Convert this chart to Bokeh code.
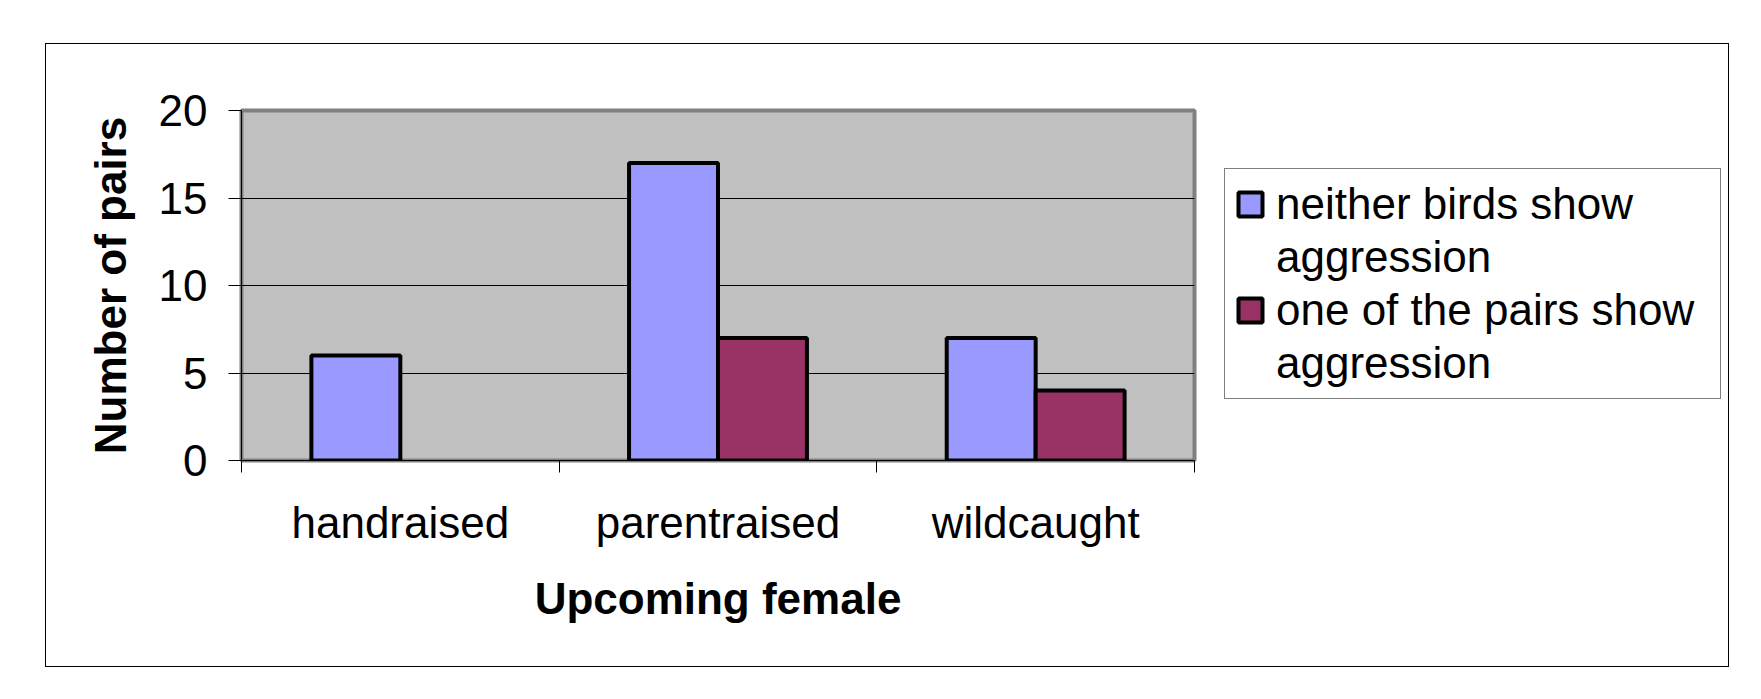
from bokeh.plotting import figure
from bokeh.models import ColumnDataSource, FixedTicker, Legend, LegendItem, Column
from bokeh.transform import dodge
from bokeh.embed import file_html
from bokeh.resources import INLINE

# ---- data ----
categories = ["handraised", "parentraised", "wildcaught"]
neither = [6, 17, 7]
one_of = [0, 7, 4]
series_labels = [["neither birds show", "aggression"], ["one of the pairs show", "aggression"]]
y_ticks = [0, 5, 10, 15, 20]
x_title = "Upcoming female"
y_title = "Number of pairs"

FONT = "Liberation Sans"

x_centers = [i + 0.5 for i in range(len(categories))]
boundaries = [float(i) for i in range(len(categories) + 1)]

src = ColumnDataSource(data=dict(
    x=x_centers,
    neither=neither,
    one_of=one_of,
    one_alpha=[1.0 if v > 0 else 0.0 for v in one_of],
    neither_alpha=[1.0 if v > 0 else 0.0 for v in neither],
))

p = figure(width=2115, height=622, x_range=(0, len(categories)), y_range=(0, 20),
           output_backend="svg", toolbar_location=None, sizing_mode="fixed",
           min_border_left=195, min_border_right=101, min_border_top=66, min_border_bottom=206)

p.background_fill_color = "#C0C0C0"
p.border_fill_color = "white"
p.outline_line_color = "#808080"
p.outline_line_width = 4

r1 = p.vbar(x=dodge("x", -0.14, range=p.x_range), top="neither", width=0.28, source=src,
            fill_color="#9999FF", line_color="black", line_alpha="neither_alpha", line_width=4)
r2 = p.vbar(x=dodge("x", 0.14, range=p.x_range), top="one_of", width=0.28, source=src,
            fill_color="#993366", line_color="black", line_alpha="one_alpha", line_width=4)
# empty renderer: used only for the continuation lines of the legend (no swatch)
blank = p.vbar(x="x", top="top", width=0.28, source=ColumnDataSource(data=dict(x=[], top=[])),
               fill_alpha=0, line_alpha=0)

p.xgrid.visible = False
p.ygrid.ticker = FixedTicker(ticks=y_ticks)
p.ygrid.grid_line_color = "black"
p.ygrid.grid_line_width = 1

# y axis
ya = p.yaxis[0]
ya.ticker = FixedTicker(ticks=y_ticks)
ya.major_tick_out = 13
ya.major_tick_in = 0
ya.minor_tick_out = 0
ya.minor_tick_in = 0
ya.axis_line_color = "black"
ya.major_tick_line_color = "black"
ya.major_label_text_font = FONT
ya.major_label_text_font_size = "44px"
ya.major_label_text_color = "black"
ya.major_label_standoff = 21
ya.axis_label = y_title
ya.axis_label_text_font = FONT
ya.axis_label_text_font_size = "44px"
ya.axis_label_text_font_style = "bold"
ya.axis_label_text_color = "black"
ya.axis_label_standoff = 21

# x axis
xa = p.xaxis[0]
xa.ticker = FixedTicker(ticks=x_centers, minor_ticks=boundaries)
xa.major_label_overrides = {x: c for x, c in zip(x_centers, categories)}
xa.major_tick_out = 0
xa.major_tick_in = 0
xa.minor_tick_out = 12
xa.minor_tick_in = 0
xa.minor_tick_line_color = "black"
xa.axis_line_color = "black"
xa.major_label_text_font = FONT
xa.major_label_text_font_size = "44px"
xa.major_label_text_color = "black"
xa.major_label_standoff = 25
xa.axis_label = x_title
xa.axis_label_text_font = FONT
xa.axis_label_text_font_size = "44px"
xa.axis_label_text_font_style = "bold"
xa.axis_label_text_color = "black"
xa.axis_label_standoff = 24

legend = Legend(items=[
    LegendItem(label=series_labels[0][0], renderers=[r1], index=1),
    LegendItem(label=series_labels[0][1], renderers=[blank]),
    LegendItem(label=series_labels[1][0], renderers=[r2], index=1),
    LegendItem(label=series_labels[1][1], renderers=[blank]),
], location=(30, 61))
legend.border_line_color = "black"
legend.border_line_width = 1
legend.background_fill_color = "white"
legend.background_fill_alpha = 1.0
legend.label_text_font = FONT
legend.label_text_font_size = "44px"
legend.label_text_color = "black"
legend.label_text_line_height = 1.1
legend.label_height = 48
legend.glyph_width = 30
legend.glyph_height = 30
legend.label_standoff = 11
legend.padding = 10
legend.spacing = 3
legend.margin = 0
legend.label_width = 434
p.add_layout(legend, "right")

page = Column(children=[p], width=1684, height=624, margin=(43, 0, 0, 45), sizing_mode="fixed",
              styles={"border": "1px solid black", "overflow": "hidden"})

open("out.html", "w").write(file_html(page, INLINE))
